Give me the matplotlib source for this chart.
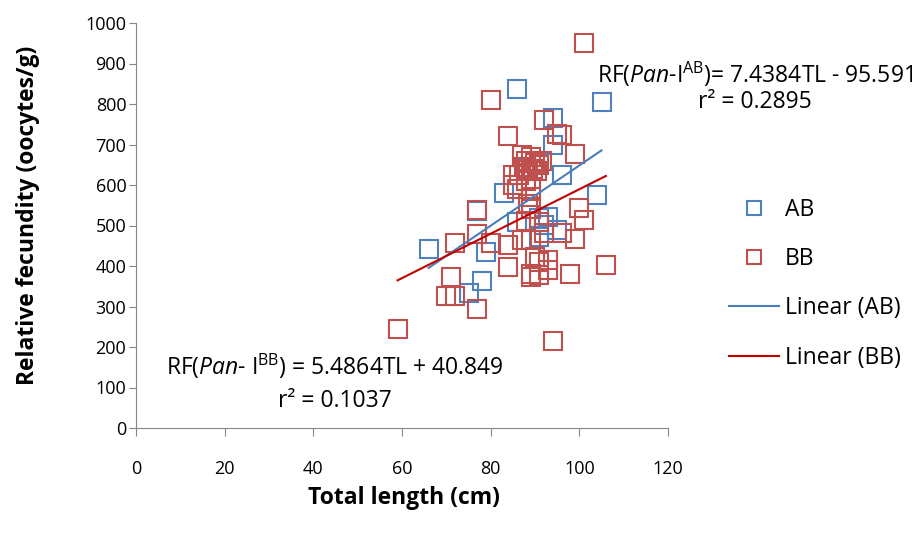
import matplotlib.pyplot as plt

plt.rcParams['font.family'] = ['Open Sans', 'DejaVu Sans']
plt.rcParams['mathtext.fontset'] = 'custom'
plt.rcParams['mathtext.rm'] = 'Open Sans'
plt.rcParams['mathtext.it'] = 'Open Sans:italic'

# AB group: total length (cm), relative fecundity (oocytes/g)
ab_tl = [66, 86, 94, 105, 104, 96, 94, 83, 79, 78, 75, 77, 86, 92, 91, 95, 91, 88, 93]
ab_rf = [441, 838, 765, 805, 575, 625, 698, 580, 435, 364, 334, 535, 509, 502, 518, 490, 472, 640, 522]

# BB group
bb_tl = [101, 80, 92, 95, 96, 84, 99,
         87, 88, 89, 90, 91, 87.5, 88.5, 89.5, 90.5, 91.5, 86.5,
         85, 86, 85, 88, 89, 89, 88.5, 89,
         77, 100, 101, 88, 91, 96, 99, 87, 84, 80, 72, 77, 92, 89,
         84, 89, 89, 90, 93, 93, 98, 106, 91, 71, 70, 72, 77, 59, 94, 91]
bb_rf = [951, 809, 761, 727, 724, 720, 677,
         675, 660, 668, 655, 650, 645, 638, 640, 635, 660, 625,
         624, 589, 600, 610, 590, 571, 553, 541,
         539, 544, 514, 512, 509, 481, 466, 465, 453, 456, 457, 479, 481, 464,
         398, 374, 380, 422, 414, 391, 381, 402, 378, 373, 326, 326, 295, 245, 216, 411]

# trendline coefficients shown on the chart
ab_slope, ab_icpt = 7.4384, -95.591
bb_slope, bb_icpt = 5.4864, 40.849

blue = '#4F81BD'
red = '#C0504D'
blue_line = '#4A7EBB'
red_line = '#C00000'

fig = plt.figure(figsize=(9.24, 5.35), dpi=100)
ax = fig.add_axes([136/924, 1-428/535, (668-136)/924, (428-23)/535])

ax.plot(ab_tl, ab_rf, 's', ms=12.5, mfc='none', mec=blue, mew=1.5, label='AB')
ax.plot(bb_tl, bb_rf, 's', ms=12.5, mfc='none', mec=red, mew=1.5, label='BB')

xa = [min(ab_tl), max(ab_tl)]
ax.plot(xa, [ab_slope*v + ab_icpt for v in xa], color=blue_line, lw=1.5, label='Linear (AB)')
xb = [min(bb_tl), max(bb_tl)]
ax.plot(xb, [bb_slope*v + bb_icpt for v in xb], color=red_line, lw=1.5, label='Linear (BB)')

ax.set_xlim(0, 120)
ax.set_ylim(0, 1000)
ax.set_xticks(range(0, 121, 20))
ax.set_yticks(range(0, 1001, 100))
for s in ['top', 'right']:
    ax.spines[s].set_visible(False)
for s in ['left', 'bottom']:
    ax.spines[s].set_color('#868686')
ax.tick_params(axis='x', direction='out', length=6, color='#868686', labelsize=13, pad=17)
ax.tick_params(axis='y', direction='out', length=5, color='#868686', labelsize=13, pad=2)

ax.set_xlabel('Total length (cm)', fontsize=16.5, fontweight='bold')
ax.set_ylabel('Relative fecundity (oocytes/g)', fontsize=16.5, fontweight='bold')
ax.xaxis.set_label_coords(0.503, -0.143)
ax.yaxis.set_label_coords(-0.18, 0.526)

fig.text(755/924, 1-74/535, 'RF($\\it{Pan}$-I$^{\\rm AB}$)= 7.4384TL - 95.591',
         ha='center', va='center', fontsize=16.5)
fig.text(755/924, 1-102/535, 'r² = 0.2895', ha='center', va='center', fontsize=16.5)
fig.text(335/924, 1-366/535, 'RF($\\it{Pan}$- I$^{\\rm BB}$) = 5.4864TL + 40.849',
         ha='center', va='center', fontsize=16.5)
fig.text(335/924, 1-401/535, 'r² = 0.1037', ha='center', va='center', fontsize=16.5)

h, l = ax.get_legend_handles_labels()
fig.legend(h, l, loc='upper left', bbox_to_anchor=(729/924, 1-198/535), frameon=False,
           fontsize=16.5, handlelength=2.2, handletextpad=0.25, labelspacing=1.1,
           borderpad=0, borderaxespad=0, markerscale=0.85)

fig.savefig('out.png', dpi=100)
